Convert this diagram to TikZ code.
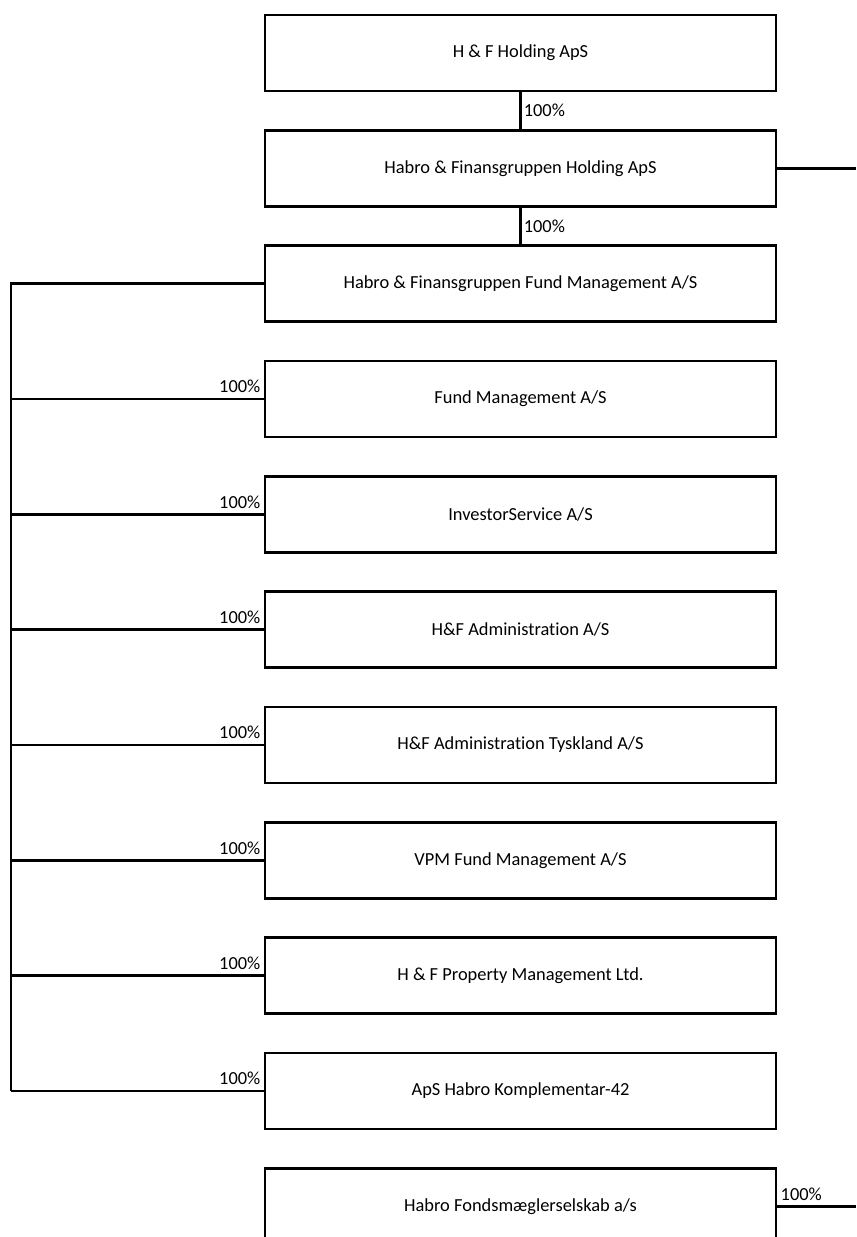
\documentclass[tikz,border=0pt]{standalone}
\usepackage{fontspec}
\setmainfont{Carlito}[Ligatures=NoCommon]
\usetikzlibrary{positioning}

\tikzset{
  company/.style={draw,line width=2pt,minimum width=383.25pt,minimum height=57pt,
    font=\fontsize{13.8}{16}\selectfont},
  link/.style={line width=2pt},
  pct/.style={font=\fontsize{13.8}{16}\selectfont,inner sep=1.5pt}
}

\begin{document}
\begin{tikzpicture}[x=0.75pt,y=0.75pt,node distance=27.5pt]
  \useasboundingbox (0,0) rectangle (856,-1237);
  \clip (0,0) rectangle (856,-1237);
  \coordinate (trunk) at (11,0);
  \coordinate (rim) at (856,0);

  \node[company] (hfhold) at (520.5,-53) {H \& F Holding ApS};
  \node[company,below=of hfhold] (hfgroup) {Habro \& Finansgruppen Holding ApS};
  \node[company,below=of hfgroup] (hffund) {Habro \& Finansgruppen Fund Management A/S};
  \node[company,below=of hffund] (fundmgmt) {Fund Management A/S};
  \node[company,below=of fundmgmt] (investor) {InvestorService A/S};
  \node[company,below=of investor] (admin) {H\&F Administration A/S};
  \node[company,below=of admin] (admintysk) {H\&F Administration Tyskland A/S};
  \node[company,below=of admintysk] (vpm) {VPM Fund Management A/S};
  \node[company,below=of vpm] (property) {H \& F Property Management Ltd.};
  \node[company,below=of property] (komplementar) {ApS Habro Komplementar-42};
  \node[company,below=of komplementar] (fonds) {Habro Fondsmæglerselskab a/s};

  \draw[link] (hfhold) -- (hfgroup) node[pct,midway,right] {100\%};
  \draw[link] (hfgroup) -- (hffund) node[pct,midway,right] {100\%};
  \draw[link] (hfgroup.east) -- (hfgroup.east -| rim);

  % trunk on the left
  \draw[link] (hffund.west) -- (hffund.west -| trunk) -- (komplementar.west -| trunk);
  \foreach \sub in {fundmgmt,investor,admin,admintysk,vpm,property,komplementar}
    \draw[link] (\sub.west -| trunk) -- (\sub.west)
      node[pct,pos=1,anchor=south east,yshift=2pt] {100\%};

  \draw[link] (fonds.east) -- (fonds.east -| rim)
    node[pct,pos=0,anchor=south west,yshift=2pt] {100\%};
\end{tikzpicture}
\end{document}
